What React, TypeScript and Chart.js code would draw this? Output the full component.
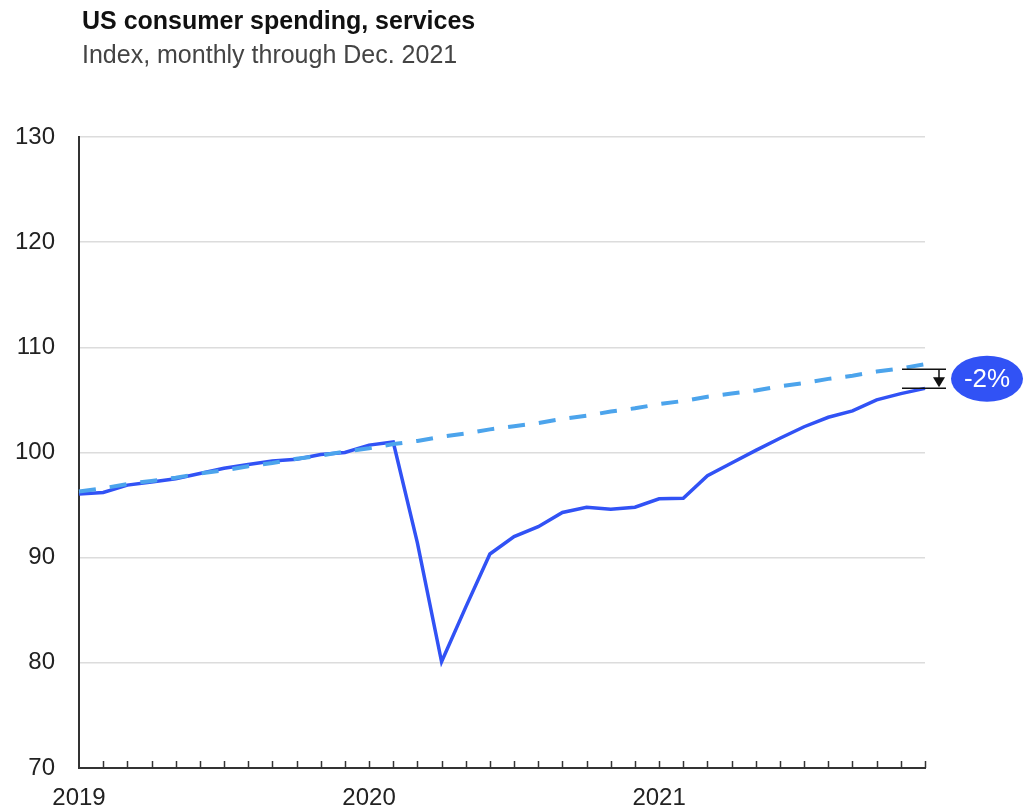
import React, { useEffect, useRef } from 'react';
import { Chart, registerables } from 'chart.js';

Chart.register(...registerables);

const years = ['2019', '2020', '2021'];
const monthNames = ['Jan', 'Feb', 'Mar', 'Apr', 'May', 'Jun', 'Jul', 'Aug', 'Sep', 'Oct', 'Nov', 'Dec'];
const months: string[] = [];
years.forEach((y) => monthNames.forEach((m) => months.push(`${m} ${y}`)));

// Actual services spending index
const actual = [
  96.05, 96.2, 96.9, 97.2, 97.5, 98.0, 98.5, 98.85, 99.2, 99.35, 99.8, 100.0,
  100.7, 101.0, 91.4, 80.1, 85.3, 90.35, 92.0, 92.95, 94.3, 94.8, 94.6, 94.8,
  95.6, 95.65, 97.8, 99.0, 100.2, 101.35, 102.45, 103.35, 103.95, 105.0, 105.6, 106.1,
];

// Pre-pandemic trend
const trend = [
  96.3, 96.6, 97.0, 97.3, 97.6, 98.0, 98.3, 98.7, 99.0, 99.4, 99.7, 100.1,
  100.4, 100.8, 101.1, 101.5, 101.8, 102.2, 102.5, 102.8, 103.2, 103.5, 103.9, 104.2,
  104.6, 104.9, 105.3, 105.6, 105.9, 106.3, 106.6, 107.0, 107.3, 107.7, 108.0, 108.4,
];

const yTicks = [70, 80, 90, 100, 110, 120, 130];
const gapLabel = '-2%';
const titleText = 'US consumer spending, services';
const subtitleText = 'Index, monthly through Dec. 2021';

const FONT = '"Liberation Sans", Arial, sans-serif';
const SOLID = '#3152f5';
const DASHED = '#4ca4ec';

const overlayPlugin = {
  id: 'overlay',
  afterDraw(chart: any) {
    const { ctx, chartArea, scales } = chart;
    const x = scales.x;
    const y = scales.y;
    ctx.save();

    // month tick marks pointing up from the axis
    ctx.strokeStyle = '#333';
    ctx.lineWidth = 1.5;
    for (let i = 1; i < months.length; i++) {
      const px = Math.round(x.getPixelForValue(i)) + 0.5;
      ctx.beginPath();
      ctx.moveTo(px, chartArea.bottom - 7);
      ctx.lineTo(px, chartArea.bottom);
      ctx.stroke();
    }

    // title & subtitle
    ctx.textAlign = 'left';
    ctx.textBaseline = 'alphabetic';
    ctx.fillStyle = '#111';
    ctx.font = `bold 25px ${FONT}`;
    ctx.fillText(titleText, 82, 29);
    ctx.fillStyle = '#444';
    ctx.font = `25px ${FONT}`;
    ctx.fillText(subtitleText, 82, 63);

    // gap annotation
    const last = months.length - 1;
    const yTop = y.getPixelForValue(trend[last]) + 5;
    const yBot = y.getPixelForValue(actual[last]);
    const r = chartArea.right;
    ctx.strokeStyle = '#111';
    ctx.lineWidth = 1.5;
    ctx.beginPath();
    ctx.moveTo(r - 23, yTop);
    ctx.lineTo(r + 21, yTop);
    ctx.moveTo(r - 23, yBot);
    ctx.lineTo(r + 21, yBot);
    const ax = r + 14;
    ctx.moveTo(ax, yTop);
    ctx.lineTo(ax, yBot - 8);
    ctx.stroke();
    ctx.fillStyle = '#111';
    ctx.beginPath();
    ctx.moveTo(ax - 6, yBot - 11);
    ctx.lineTo(ax + 6, yBot - 11);
    ctx.lineTo(ax, yBot - 1);
    ctx.closePath();
    ctx.fill();

    const cx = r + 62;
    const cy = (yTop + yBot) / 2;
    ctx.fillStyle = SOLID;
    ctx.beginPath();
    ctx.ellipse(cx, cy, 36, 23, 0, 0, Math.PI * 2);
    ctx.fill();
    ctx.fillStyle = '#fff';
    ctx.font = `26px ${FONT}`;
    ctx.textAlign = 'center';
    ctx.textBaseline = 'middle';
    ctx.fillText(gapLabel, cx, cy + 1);

    ctx.restore();
  },
};

export default function App() {
  const ref = useRef<HTMLCanvasElement | null>(null);

  useEffect(() => {
    if (!ref.current) return;
    const chart = new Chart(ref.current, {
      type: 'line',
      data: {
        labels: months,
        datasets: [
          {
            label: 'Trend',
            data: trend,
            borderColor: DASHED,
            borderWidth: 4,
            borderDash: [17, 14],
            pointRadius: 0,
            tension: 0,
            fill: false,
          },
          {
            label: 'Actual',
            data: actual,
            borderColor: SOLID,
            borderWidth: 3.5,
            pointRadius: 0,
            tension: 0,
            fill: false,
          },
        ],
      },
      options: {
        animation: false,
        responsive: false,
        maintainAspectRatio: false,
        layout: { padding: { top: 137, right: 99, left: 0, bottom: 0 } },
        plugins: {
          legend: { display: false },
          tooltip: { enabled: false },
          title: { display: false },
        },
        scales: {
          x: {
            type: 'category',
            offset: false,
            grid: { display: false, drawTicks: false },
            border: { display: true, color: '#333', width: 2 },
            ticks: {
              autoSkip: false,
              maxRotation: 0,
              padding: 16,
              color: '#222',
              font: { family: FONT, size: 24 },
              callback: (_v: any, i: number) => (i % 12 === 0 ? years[i / 12] : ''),
            },
            afterFit: (s: any) => {
              s.height = 43;
            },
          },
          y: {
            min: 70,
            max: 130,
            afterBuildTicks: (s: any) => {
              s.ticks = yTicks.map((v) => ({ value: v }));
            },
            grid: { color: '#dcdcdc', lineWidth: 1.5, drawTicks: false },
            border: { display: true, color: '#333', width: 2 },
            ticks: {
              padding: 24,
              color: '#222',
              font: { family: FONT, size: 24 },
            },
            afterFit: (s: any) => {
              s.width = 79;
            },
          },
        },
      },
      plugins: [overlayPlugin],
    });
    return () => chart.destroy();
  }, []);

  return (
    <div style={{ position: 'absolute', left: 0, top: 0, width: 1024, height: 811, background: '#fff' }}>
      <canvas ref={ref} width={1024} height={811} style={{ display: 'block' }} />
    </div>
  );
}
